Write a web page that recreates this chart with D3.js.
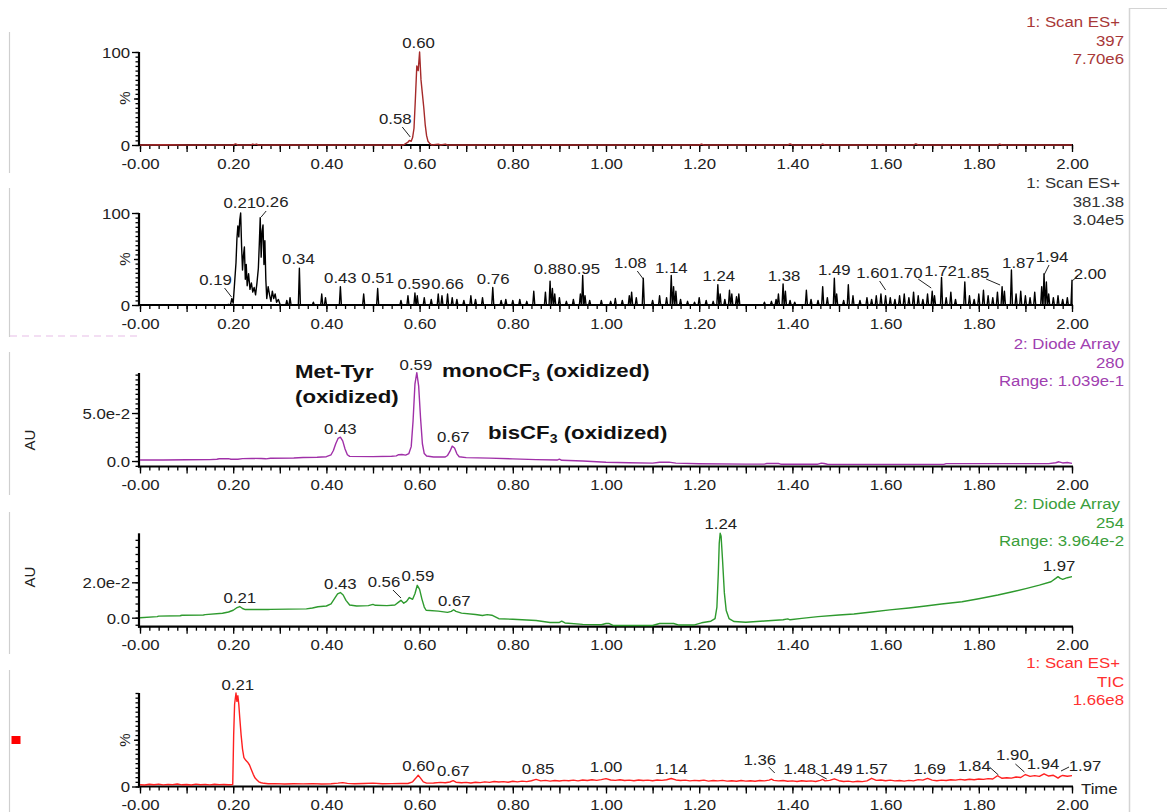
<!DOCTYPE html>
<html><head><meta charset="utf-8">
<script src="https://cdn.jsdelivr.net/npm/d3@7"></script>
<style>
body{margin:0;background:#fff;}
svg{display:block;}
text{font-family:"Liberation Sans",Arial,sans-serif;}
</style></head><body>
<svg id="c" width="1167" height="812"></svg>
<script>
// ---------------- DATA ----------------
const xTickValues = [0,0.2,0.4,0.6,0.8,1.0,1.2,1.4,1.6,1.8,2.0];
const xTickLabels = ["-0.00","0.20","0.40","0.60","0.80","1.00","1.20","1.40","1.60","1.80","2.00"];

// Panel 1: 1: Scan ES+ 397 (% of 7.70e6)
const ms397 = [[0,0],[0.05,0.3],[0.1,0],[0.2,0],[0.205,1.2],[0.21,0],[0.238,0],[0.242,1],[0.246,0.4],[0.25,1],[0.254,0],[0.5,0],[0.565,0],[0.57,1.5],[0.575,3],[0.578,5],[0.582,4],[0.585,8],[0.588,18],[0.591,50],[0.594,85],[0.597,80],[0.600,100],[0.603,70],[0.606,55],[0.609,40],[0.612,22],[0.615,10],[0.618,4],[0.622,1.5],[0.626,0],[0.64,0.8],[0.645,0],[0.655,1],[0.66,0],[1.2,0],[1.205,1],[1.21,0],[1.39,0],[1.395,1.2],[1.40,0],[1.46,0],[1.465,1],[1.47,0],[1.66,0],[1.665,1.2],[1.67,0],[1.84,0],[1.845,1],[1.85,0],[2.0,0]];

// Panel 2: 1: Scan ES+ 381.38 (% of 3.04e5)
const ms381Hump = [[0,0],[0.185,0],[0.19,0.5],[0.194,0],[0.197,7],[0.200,2],[0.203,24],[0.206,46],[0.208,72],[0.210,86],[0.212,74],[0.214,92],[0.216,100],[0.218,64],[0.220,38],[0.222,54],[0.224,63],[0.226,28],[0.228,44],[0.230,21],[0.233,34],[0.236,17],[0.239,24],[0.242,14],[0.245,19],[0.248,11],[0.251,24],[0.254,40],[0.256,66],[0.258,95],[0.260,52],[0.262,80],[0.264,87],[0.266,44],[0.268,70],[0.270,28],[0.272,7],[0.275,20],[0.278,11],[0.281,4],[0.284,15],[0.287,7],[0.290,12],[0.293,3],[0.297,6],[0.301,0]];
const ms381Spikes = [[0.315,5],[0.322,8],[0.342,40],[0.372,3],[0.39,12],[0.398,8],[0.43,20],[0.48,12],[0.51,18],[0.56,5],[0.575,10],[0.59,13],[0.595,10],[0.61,8],[0.625,6],[0.64,12],[0.648,10],[0.66,12],[0.67,8],[0.68,6],[0.695,5],[0.71,10],[0.72,6],[0.735,8],[0.757,19],[0.775,5],[0.785,6],[0.80,5],[0.815,6],[0.83,4],[0.845,15],[0.87,14],[0.88,26],[0.885,18],[0.89,12],[0.9,8],[0.915,4],[0.93,6],[0.945,12],[0.95,32],[0.955,10],[0.965,5],[0.99,5],[1.01,4],[1.02,7],[1.035,5],[1.05,10],[1.055,14],[1.065,8],[1.08,29],[1.1,5],[1.115,10],[1.13,8],[1.14,32],[1.145,20],[1.15,15],[1.16,6],[1.175,4],[1.19,3],[1.2,8],[1.215,5],[1.23,4],[1.24,22],[1.245,12],[1.255,6],[1.265,16],[1.27,12],[1.28,9],[1.285,12],[1.34,3],[1.355,4],[1.365,6],[1.37,12],[1.38,23],[1.385,15],[1.395,5],[1.405,3],[1.43,16],[1.44,6],[1.455,5],[1.465,20],[1.475,8],[1.49,29],[1.495,12],[1.51,5],[1.52,22],[1.53,10],[1.545,5],[1.56,8],[1.57,6],[1.58,10],[1.59,12],[1.60,10],[1.61,8],[1.62,6],[1.63,10],[1.64,12],[1.65,8],[1.66,14],[1.67,10],[1.68,6],[1.69,12],[1.70,15],[1.705,10],[1.72,30],[1.73,8],[1.74,14],[1.75,6],[1.77,25],[1.78,10],[1.79,6],[1.80,12],[1.81,16],[1.82,10],[1.83,8],[1.84,14],[1.85,20],[1.855,15],[1.87,38],[1.88,12],[1.89,15],[1.90,10],[1.91,8],[1.92,14],[1.935,20],[1.94,34],[1.945,25],[1.95,12],[1.96,8],[1.97,10],[1.98,6],[1.99,8],[2.00,27]];

// Panel 3: 2: Diode Array 280 (AU)
const da280 = [[0,0.0010],[0.05,0.0011],[0.10,0.0013],[0.15,0.0015],[0.165,0.0018],[0.17,0.0024],[0.19,0.0025],[0.195,0.0019],[0.21,0.0019],[0.22,0.0025],[0.24,0.0028],[0.26,0.0026],[0.27,0.0023],[0.28,0.0029],[0.33,0.0032],[0.35,0.0036],[0.38,0.0040],[0.40,0.0045],[0.41,0.0065],[0.415,0.011],[0.42,0.018],[0.425,0.0235],[0.43,0.0248],[0.435,0.021],[0.44,0.0125],[0.445,0.0065],[0.45,0.0048],[0.50,0.0046],[0.54,0.0050],[0.55,0.0054],[0.555,0.0066],[0.562,0.0068],[0.57,0.0062],[0.577,0.0078],[0.582,0.015],[0.586,0.042],[0.59,0.080],[0.594,0.092],[0.598,0.078],[0.602,0.045],[0.606,0.018],[0.61,0.0078],[0.615,0.0052],[0.63,0.0042],[0.655,0.0042],[0.66,0.0058],[0.665,0.010],[0.67,0.0155],[0.675,0.0135],[0.68,0.0075],[0.685,0.0045],[0.70,0.0035],[0.75,0.0030],[0.80,0.0022],[0.85,0.0015],[0.895,0.0010],[0.90,0.0020],[0.905,0.0008],[0.95,0.0000],[1.00,-0.0012],[1.05,-0.0018],[1.10,-0.0022],[1.115,-0.0013],[1.135,-0.0011],[1.15,-0.0022],[1.20,-0.0028],[1.30,-0.0032],[1.34,-0.0032],[1.345,-0.0026],[1.37,-0.0026],[1.375,-0.0033],[1.455,-0.0033],[1.462,-0.0022],[1.468,-0.0026],[1.475,-0.0034],[1.60,-0.0035],[1.725,-0.0035],[1.73,-0.0027],[1.95,-0.0027],[1.965,-0.0018],[1.972,-0.0008],[1.98,-0.0020],[1.99,-0.0016],[2.0,-0.0024]];

// Panel 4: 2: Diode Array 254 (AU)
const da254 = [[0,0],[0.037,0.0006],[0.04,0.0009],[0.086,0.0011],[0.09,0.0014],[0.136,0.0015],[0.14,0.0017],[0.177,0.0025],[0.19,0.0032],[0.20,0.0042],[0.207,0.0055],[0.214,0.0063],[0.22,0.0052],[0.226,0.0046],[0.275,0.0046],[0.28,0.0047],[0.357,0.0050],[0.37,0.0055],[0.382,0.0062],[0.40,0.0066],[0.41,0.0078],[0.418,0.011],[0.424,0.0135],[0.43,0.0142],[0.436,0.0128],[0.442,0.0098],[0.45,0.0072],[0.465,0.0066],[0.49,0.0068],[0.50,0.0075],[0.505,0.007],[0.53,0.0068],[0.547,0.0072],[0.555,0.0088],[0.56,0.0098],[0.566,0.0082],[0.572,0.0092],[0.578,0.0114],[0.585,0.0104],[0.59,0.0135],[0.595,0.0183],[0.60,0.016],[0.605,0.0105],[0.61,0.006],[0.614,0.0042],[0.64,0.0037],[0.66,0.003],[0.668,0.0036],[0.673,0.0045],[0.678,0.0036],[0.69,0.0026],[0.72,0.0018],[0.735,0.0012],[0.745,0.0017],[0.755,0.0014],[0.77,-0.0006],[0.80,-0.0009],[0.85,-0.0016],[0.88,-0.0027],[0.9,-0.0027],[0.905,-0.0020],[0.912,-0.0030],[0.95,-0.0038],[0.99,-0.0040],[1.0,-0.0033],[1.006,-0.0032],[1.015,-0.0044],[1.10,-0.0044],[1.115,-0.0033],[1.145,-0.0033],[1.155,-0.0041],[1.19,-0.0041],[1.205,-0.0029],[1.225,-0.0020],[1.234,-0.0005],[1.238,0.006],[1.241,0.025],[1.243,0.042],[1.245,0.0477],[1.247,0.046],[1.250,0.033],[1.254,0.014],[1.258,0.004],[1.264,-0.0005],[1.275,-0.0022],[1.30,-0.0026],[1.34,-0.0019],[1.38,-0.0012],[1.39,-0.0007],[1.395,-0.0012],[1.42,-0.0004],[1.455,0.0006],[1.50,0.0015],[1.532,0.0021],[1.57,0.0032],[1.609,0.0044],[1.65,0.0055],[1.686,0.0066],[1.72,0.0077],[1.764,0.009],[1.80,0.0107],[1.841,0.0128],[1.87,0.0145],[1.903,0.0166],[1.93,0.0184],[1.955,0.0203],[1.965,0.0222],[1.970,0.0232],[1.975,0.0222],[1.98,0.0217],[1.99,0.0226],[2.0,0.0232]];

// Panel 5: 1: Scan ES+ TIC (% of 1.66e8)
const tic = [[0.00,2.0],[0.01,1.6],[0.02,2.4],[0.03,1.9],[0.04,2.6],[0.05,1.7],[0.06,2.3],[0.07,2.0],[0.08,2.7],[0.09,1.8],[0.10,2.2],[0.11,1.6],[0.12,2.5],[0.13,1.9],[0.14,2.3],[0.15,1.7],[0.16,2.4],[0.17,2.0],[0.18,2.2],[0.19,1.8],[0.199,2.1],[0.201,55],[0.203,88],[0.206,100],[0.208,91],[0.210,97],[0.212,88],[0.214,74],[0.217,55],[0.220,40],[0.223,31],[0.227,28],[0.231,26],[0.235,23],[0.239,18],[0.243,13],[0.247,9],[0.251,7],[0.255,5],[0.260,4],[0.266,3.4],[0.275,3.0],[0.29,3.1],[0.31,2.7],[0.33,3.0],[0.35,2.8],[0.37,3.1],[0.39,2.7],[0.41,3.0],[0.425,3.6],[0.435,4.2],[0.445,3.3],[0.46,3.0],[0.48,3.2],[0.50,3.6],[0.52,3.0],[0.54,3.1],[0.56,3.3],[0.575,3.2],[0.585,5.0],[0.592,9.0],[0.597,12],[0.602,9],[0.608,5],[0.615,3.6],[0.63,3.8],[0.645,4.4],[0.655,4.0],[0.665,4.8],[0.672,6.3],[0.678,4.6],[0.69,4.0],[0.70,4.4],[0.71,3.8],[0.72,4.6],[0.73,4.2],[0.74,5.0],[0.75,4.4],[0.76,5.4],[0.77,4.8],[0.78,5.2],[0.79,4.6],[0.80,5.6],[0.81,5.0],[0.82,5.8],[0.83,5.2],[0.84,6.2],[0.85,7.6],[0.86,6.0],[0.87,6.6],[0.88,5.8],[0.89,6.4],[0.90,5.9],[0.91,6.6],[0.92,6.2],[0.93,6.8],[0.94,6.0],[0.95,7.0],[0.96,6.4],[0.97,7.2],[0.98,6.6],[0.99,7.4],[1.00,8.4],[1.01,7.0],[1.02,6.6],[1.03,7.2],[1.04,6.4],[1.05,6.8],[1.06,6.2],[1.07,7.0],[1.08,6.4],[1.09,6.8],[1.10,6.2],[1.11,7.0],[1.12,6.6],[1.13,7.2],[1.14,8.6],[1.15,7.0],[1.16,6.4],[1.17,6.8],[1.18,6.0],[1.19,6.6],[1.20,6.2],[1.21,6.8],[1.22,5.8],[1.23,6.4],[1.24,6.0],[1.25,6.6],[1.26,5.8],[1.27,6.2],[1.28,5.6],[1.29,6.4],[1.30,5.8],[1.31,6.2],[1.32,5.6],[1.33,6.4],[1.34,6.0],[1.35,6.8],[1.355,7.8],[1.36,6.6],[1.37,6.0],[1.38,6.4],[1.39,5.6],[1.40,6.0],[1.41,5.4],[1.42,6.2],[1.43,5.6],[1.44,6.0],[1.45,5.4],[1.46,6.6],[1.465,7.6],[1.47,6.0],[1.48,6.6],[1.49,8.2],[1.50,6.2],[1.51,5.4],[1.52,5.8],[1.53,5.0],[1.54,5.6],[1.55,5.2],[1.56,6.0],[1.57,8.8],[1.58,6.6],[1.59,7.0],[1.60,6.2],[1.61,6.8],[1.62,6.0],[1.63,6.4],[1.64,5.8],[1.65,6.6],[1.66,6.0],[1.67,7.4],[1.68,6.8],[1.69,8.6],[1.70,6.8],[1.71,6.2],[1.72,6.8],[1.73,6.4],[1.74,7.2],[1.75,6.8],[1.76,7.6],[1.77,7.0],[1.78,7.8],[1.79,7.2],[1.80,8.0],[1.81,7.6],[1.82,8.4],[1.83,8.0],[1.84,11.5],[1.85,8.8],[1.86,9.4],[1.87,9.0],[1.88,10.2],[1.89,9.6],[1.90,12.8],[1.91,10.8],[1.92,11.6],[1.93,10.8],[1.94,13.6],[1.95,11.2],[1.96,12.0],[1.965,10.6],[1.97,9.0],[1.975,10.8],[1.98,11.8],[1.99,11.0],[2.00,11.6]];

// Peak labels: [text, dx(px from retention time), label centre y(px)] and leader lines [dx1,y1,dx2,y2]
const labels397 = [["0.60",-1,43],["0.58",-15,119]];
const leaders397 = [["0.58",-8,127,0,137]];
const labels381 = [["0.19",-13,280],["0.21",2,203],["0.26",11,202],["0.34",0,259],["0.43",0,278],["0.51",0,278],["0.59",-1,284],["0.66",0,284],["0.76",-1,279],["0.88",0,269],["0.95",1,269],["1.08",-13,263],["1.14",0,268],["1.24",1,276],["1.38",1,276],["1.49",0,270],["1.60",-13,273],["1.70",-26,273],["1.72",-1,271],["1.85",-29,273],["1.87",7,263],["1.94",8,257],["2.00",18,274]];
const leaders381 = [["0.19",-4,288,3,297],["0.26",5,211,0,217],["1.08",-6,271,0,279],["1.60",-6,281,0,290],["1.70",-14,279,-1,288],["1.85",-16,279,-2,285],["1.94",5,265,0,275],["2.00",6,276,0,281]];
const labels280 = [["0.59",1,365],["0.43",0,429],["0.67",1,437]];
const labels254 = [["0.21",2,598],["0.43",0,584],["0.56",-17,582],["0.59",3,576],["0.67",2,601],["1.24",3,524],["1.97",1,566]];
const leaders254 = [["0.56",-8,590,0,598]];
const labelsTic = [["0.21",0,685],["0.60",-1,766],["0.67",1,771],["0.85",2,769],["1.00",0,767],["1.14",0,769],["1.36",-14,760],["1.48",-30,769],["1.49",2,769],["1.57",0,769],["1.69",2,769],["1.84",-23,766],["1.90",-13,755],["1.94",-1,764],["1.97",27,766]];
const leadersTic = [["1.36",-5,767,1,773],["1.48",-14,773,-3,779],["1.84",-8,767,1,775],["1.90",-10,764,-1,772],["1.97",11,767,3,771]];

const headers = [
  ["1: Scan ES+","397","7.70e6"],
  ["1: Scan ES+","381.38","3.04e5"],
  ["2: Diode Array","280","Range: 1.039e-1"],
  ["2: Diode Array","254","Range: 3.964e-2"],
  ["1: Scan ES+","TIC","1.66e8"]
];

// ---------------- DRAWING ----------------
const svg = d3.select("#c");
const SX = 1.12, FS = 15;
const x = d3.scaleLinear().domain([0,2]).range([140,1072]);

function T(parent, str, px, py, o={}) {
  const t = parent.append("text")
    .attr("transform", `translate(${px},${py}) scale(${o.sx||SX},1)`)
    .attr("text-anchor", o.anchor||"middle")
    .attr("font-size", o.size||FS)
    .attr("font-weight", o.weight||"normal")
    .attr("fill", o.fill||"#222")
    .text(str);
  return t;
}

function drawXAxis(g, axisY) {
  const minor = d3.range(0, 101).map(i => i/50);
  const major = d3.range(0, 21).map(i => i/10);
  const fmt = d => { const i = xTickValues.findIndex(v => Math.abs(v-d) < 1e-6); return i>=0 ? xTickLabels[i] : ""; };
  const a1 = g.append("g").attr("transform",`translate(0,${axisY})`)
    .call(d3.axisBottom(x).tickValues(minor).tickSize(4).tickSizeOuter(0).tickFormat(""));
  a1.select(".domain").remove();
  const a2 = g.append("g").attr("transform",`translate(0,${axisY})`)
    .call(d3.axisBottom(x).tickValues(major).tickSize(7).tickSizeOuter(0).tickFormat(fmt));
  a2.select(".domain").remove();
  g.selectAll(".tick line").attr("stroke","#000").attr("stroke-width",1.3);
  a2.selectAll("text").attr("font-size",FS).attr("font-family","Liberation Sans, Arial, sans-serif")
    .attr("fill","#222").attr("y",13).attr("transform",`scale(${SX},1)`);
  g.append("line").attr("x1",138).attr("x2",x(2)+1).attr("y1",axisY).attr("y2",axisY)
    .attr("stroke","#000").attr("stroke-width",2.2);
}

function drawYAxis(g, y, p) {
  const ga = g.append("g").attr("transform","translate(139,0)");
  const a1 = ga.append("g").call(d3.axisLeft(y).tickValues(p.minor).tickSize(3.5).tickFormat(""));
  a1.select(".domain").remove();
  if (p.mid) { const am = ga.append("g").call(d3.axisLeft(y).tickValues(p.mid).tickSize(5).tickFormat("")); am.select(".domain").remove(); }
  const a2 = ga.append("g").call(d3.axisLeft(y).tickValues(p.majorV).tickSize(7).tickFormat((d,i)=>p.majorL[i]));
  a2.select(".domain").remove();
  ga.selectAll(".tick line").attr("stroke","#000").attr("stroke-width",1.3);
  a2.selectAll("text").attr("font-size",FS).attr("font-family","Liberation Sans, Arial, sans-serif")
    .attr("fill","#222").attr("x",-8).attr("dy","0.36em").attr("transform",`scale(${SX},1)`);
  ga.append("line").attr("x1",0).attr("x2",0).attr("y1",p.axisY+1).attr("y2",p.topY)
    .attr("stroke","#000").attr("stroke-width",2.2);
}

const pct = d3.range(0,101,5);
const panels = [
  {data: ms397, color:"#a52a2a", hcolor:"#a83838", axisY:145, topY:52, dom:[0,100], hy:27, gray:[32,173],
   minor:pct, mid:[50], majorV:[0,100], majorL:["0","100"], title:"%", titleX:125, titleY:98,
   labels:labels397, leaders:leaders397},
  {data: null, color:"#000", hcolor:"#333", axisY:305, topY:213, dom:[0,100], hy:188, gray:[188,337],
   minor:pct, mid:[50], majorV:[0,100], majorL:["0","100"], title:"%", titleX:125, titleY:259,
   labels:labels381, leaders:leaders381},
  {data: da280, color:"#a030a8", hcolor:"#a040b0", axisY:466.5, topY:373, dom:[-0.0057,0.0917], hy:349, gray:[352,495],
   minor:d3.range(-5,92,5).map(v=>v/1000), mid:null, majorV:[0,0.05], majorL:["0.0","5.0e-2"], title:"AU", titleX:30, titleY:440,
   labels:labels280, leaders:[]},
  {data: da254, color:"#2e9a2e", hcolor:"#3a9e3a", axisY:626.7, topY:533.3, dom:[-0.0051,0.0477], hy:509, gray:[512,654],
   minor:d3.range(-4,48,4).map(v=>v/1000), mid:null, majorV:[0,0.02], majorL:["0.0","2.0e-2"], title:"AU", titleX:30, titleY:577,
   labels:labels254, leaders:leaders254},
  {data: tic, color:"#ff2020", hcolor:"#ff3030", axisY:786.5, topY:693, dom:[0,100], hy:668, gray:[670,812],
   minor:pct, mid:[50], majorV:[0], majorL:["0"], title:"%", titleX:125, titleY:740,
   labels:labelsTic, leaders:leadersTic}
];

// spike expansion for panel 2 (each spike drawn as a narrow peak on the zero baseline)
const hw = 0.0022;
const ms381 = ms381Hump.concat(...ms381Spikes.map(([t,v]) => [[Math.max(0,t-hw),0],[t,v],[Math.min(2,t+hw),0]])).sort((a,b)=>a[0]-b[0]);
panels[1].data = ms381;

// background borders
svg.append("line").attr("x1",1129.5).attr("x2",1129.5).attr("y1",8).attr("y2",812).attr("stroke","#d4d4d4").attr("stroke-width",1.5);
svg.append("line").attr("x1",1129.5).attr("x2",1167).attr("y1",8.5).attr("y2",8.5).attr("stroke","#d4d4d4").attr("stroke-width",1);
svg.append("line").attr("x1",10).attr("x2",140).attr("y1",336).attr("y2",336).attr("stroke","#f0d4f0").attr("stroke-width",1.5).attr("stroke-dasharray","7,5");

panels.forEach((p, k) => {
  const g = svg.append("g");
  const y = d3.scaleLinear().domain(p.dom).range([p.axisY, p.topY]);
  g.append("line").attr("x1",9.5).attr("x2",9.5).attr("y1",p.gray[0]).attr("y2",p.gray[1]).attr("stroke","#cfcfcf").attr("stroke-width",1.2);
  drawXAxis(g, p.axisY);
  drawYAxis(g, y, p);
  const line = d3.line().x(d=>x(d[0])).y(d=>y(d[1]));
  g.append("path").datum(p.data).attr("d",line).attr("fill","none").attr("stroke",p.color).attr("stroke-width",1.4).attr("stroke-linejoin","round");
  g.append("text").attr("transform",`translate(${p.titleX},${p.titleY}) rotate(-90)`).attr("text-anchor","middle")
    .attr("dy","0.36em").attr("font-size",FS).attr("fill","#222").text(p.title);
  const h = headers[k];
  T(g, h[0], 1120, p.hy, {anchor:"end", fill:p.hcolor});
  T(g, h[1], 1124, p.hy+18.5, {anchor:"end", fill:p.hcolor});
  T(g, h[2], 1124, p.hy+37, {anchor:"end", fill:p.hcolor});
  p.labels.forEach(([s,dx,cy]) => T(g, s, x(+s)+dx, cy+5.3, {}));
  p.leaders.forEach(([s,dx1,y1,dx2,y2]) => g.append("line").attr("x1",x(+s)+dx1).attr("y1",y1).attr("x2",x(+s)+dx2).attr("y2",y2).attr("stroke","#222").attr("stroke-width",1));
});

T(svg, "Time", 1081, 793.5, {anchor:"start"});
svg.append("rect").attr("x",11.5).attr("y",736).attr("width",9).attr("height",8).attr("fill","#ff0000");

const B = {anchor:"start", size:19, weight:"bold", fill:"#111", sx:1.17};
T(svg, "Met-Tyr", 295, 378, B);
T(svg, "(oxidized)", 295, 403, B);
const m = T(svg, "monoCF", 442, 377, B);
m.append("tspan").attr("font-size",12).attr("dy",4).text("3");
m.append("tspan").attr("dy",-4).text(" (oxidized)");
const b = T(svg, "bisCF", 488, 439, B);
b.append("tspan").attr("font-size",12).attr("dy",4).text("3");
b.append("tspan").attr("dy",-4).text(" (oxidized)");
</script>
</body></html>
